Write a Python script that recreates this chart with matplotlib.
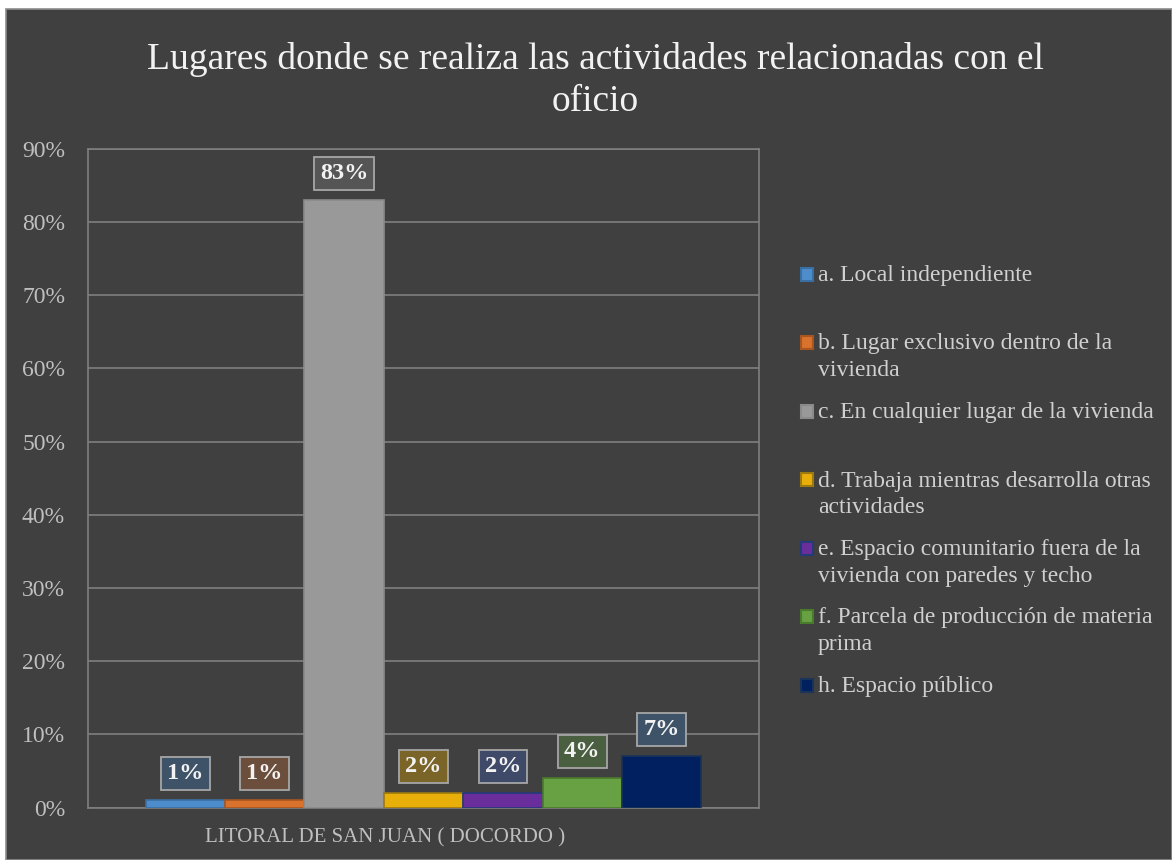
import matplotlib
matplotlib.use('Agg')
import matplotlib.pyplot as plt
import matplotlib.transforms as mtransforms
from matplotlib.patches import Rectangle
import numpy as np

# data
title = 'Lugares donde se realiza las actividades relacionadas con el\noficio'
category = 'LITORAL DE SAN JUAN ( DOCORDO )'
series = ['a. Local independiente',
          'b. Lugar exclusivo dentro de la\nvivienda',
          'c. En cualquier lugar de la vivienda',
          'd. Trabaja mientras desarrolla otras\nactividades',
          'e. Espacio comunitario fuera de la\nvivienda con paredes y techo',
          'f. Parcela de producción de materia\nprima',
          'h. Espacio público']
values = [1, 1, 83, 2, 2, 4, 7]
yticks = [0, 10, 20, 30, 40, 50, 60, 70, 80, 90]

# styles
colors = ['#4e8dcb', '#d8722c', '#999999', '#e8ae0a', '#6a2e9c', '#68a044', '#002060']
edges = ['#3a6fa3', '#a8561f', '#8a8a8a', '#9c7a10', '#253a78', '#4a7a2c', '#1a3358']
box_colors = ['#3e5368', '#6b4e3b', '#555555', '#7a6428', '#3e4a68', '#4a5e40', '#3e5368']
bg = '#404040'
font = 'Liberation Serif'

W, H = 1172, 860
fig = plt.figure(figsize=(W / 100, H / 100), dpi=100, facecolor='white')
fig.patches.append(Rectangle((6 / W, 0), 1 - 6 / W, 1 - 9 / H, transform=fig.transFigure,
                             facecolor=bg, edgecolor='#8c8c8c', linewidth=1.2, zorder=-10))

ax = fig.add_axes([88 / W, (H - 807.5) / H, (759 - 88) / W, (807.5 - 149) / H])
ax.set_zorder(1)
ax.set_facecolor(bg)

x = np.arange(len(values)) - (len(values) - 1) / 2
bars = ax.bar(x, values, width=1.0, color=colors, edgecolor=edges, linewidth=1.2, zorder=3)

for xi, v, bc in zip(x, values, box_colors):
    ax.annotate(f'{v}%', (xi, v), xytext=(0, 19), textcoords='offset points',
                ha='center', va='center', fontsize=17.5, fontweight='bold',
                family=font, color='#f2f2f2', zorder=5,
                bbox=dict(boxstyle='square,pad=0.25', facecolor=bc,
                          edgecolor='#a6a6a6', linewidth=1.3))

ax.set_xlim(-4.225, 4.225)
ax.set_ylim(0, 90)
ax.set_yticks(yticks)
ax.set_yticklabels([f'{t}%' for t in yticks], family=font, fontsize=17, color='#bfbfbf')
ax.tick_params(axis='y', length=0, pad=16.5)
ax.set_xticks([0])
ax.set_xticklabels([category], family=font, fontsize=15, color='#bfbfbf')
ax.tick_params(axis='x', length=0, pad=15)
shift = mtransforms.ScaledTranslation(-0.38, 0, fig.dpi_scale_trans)
for lab in ax.get_xticklabels():
    lab.set_transform(lab.get_transform() + shift)
ax.grid(axis='y', color='#7f7f7f', linewidth=1.2, zorder=0)
ax.set_axisbelow(True)
for s in ax.spines.values():
    s.set_color('#7f7f7f')
    s.set_linewidth(1.2)

fig.text(595 / W, 1 - 80.5 / H, title, ha='center', va='center', family=font,
         fontsize=27, color='#f2f2f2', linespacing=1.25)

# legend, evenly spaced entries, marker on the first line
for i, (name, c, e) in enumerate(zip(series, colors, edges)):
    yp = 274 + 68.5 * i
    fig.patches.append(Rectangle((801 / W, 1 - (yp + 6.5) / H), 12 / W, 13 / H,
                                 transform=fig.transFigure, facecolor=c, edgecolor=e,
                                 linewidth=1.5, zorder=3))
    fig.text(818 / W, 1 - (yp - 9) / H, name, ha='left', va='top', family=font,
             fontsize=17, color='#d0d0d0', linespacing=1.35)

fig.savefig('out.png', dpi=100, facecolor='white')
